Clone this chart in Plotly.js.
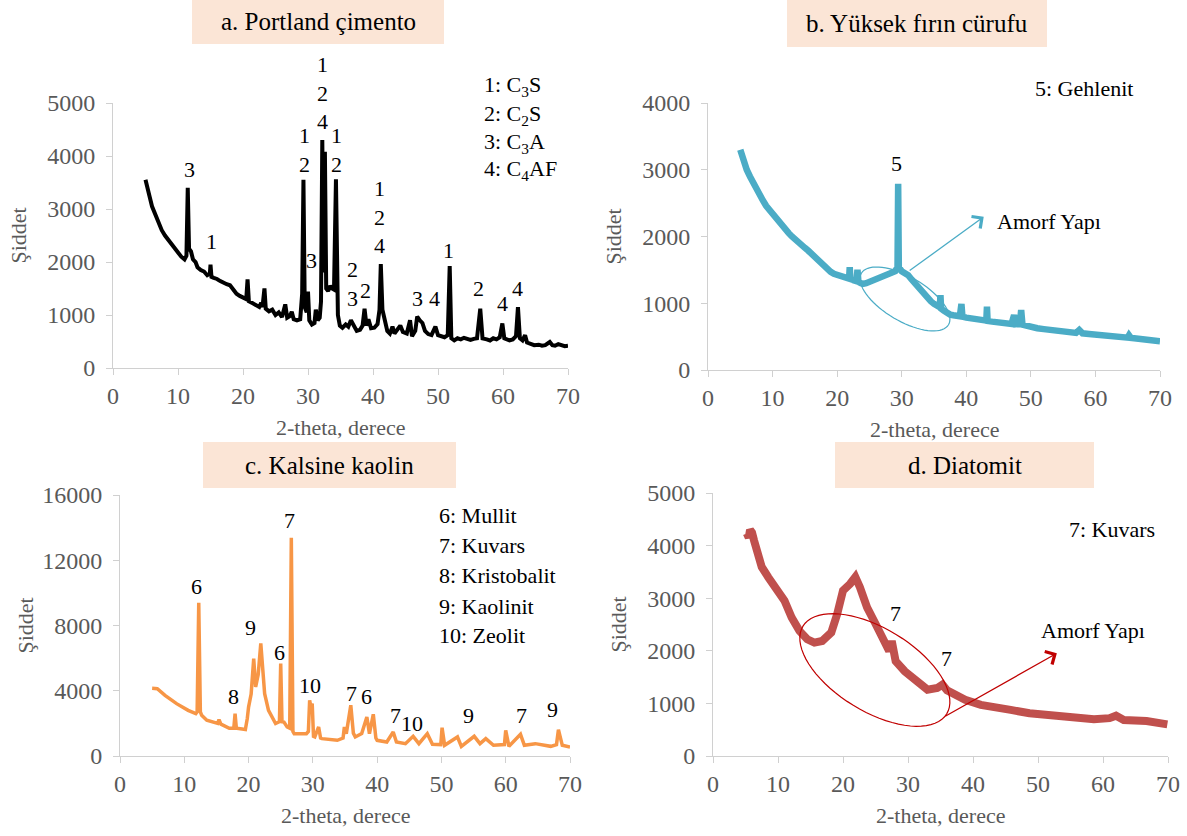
<!DOCTYPE html>
<html><head><meta charset="utf-8">
<script src="https://cdn.plot.ly/plotly-3.0.1.min.js"></script>
<style>html,body{margin:0;padding:0;background:#fff}#chart{width:1187px;height:836px}</style>
</head><body><div id="chart"></div>
<script>
// ---------- Panel a: Portland çimento ----------
const aX = [5.0,5.3,5.6,6.0,6.5,7.0,7.5,8.0,8.5,9.0,9.5,10.0,10.5,11.0,11.3,11.5,11.7,12.0,12.3,12.7,13.0,13.5,14.0,14.5,14.9,15.0,15.15,15.5,16.0,16.5,17.0,17.5,18.0,18.5,19.0,19.5,20.0,20.5,20.7,20.9,21.5,22.0,22.5,22.8,23.0,23.3,23.5,24.0,24.5,25.0,25.5,26.0,26.5,26.8,27.2,27.5,27.8,28.3,28.8,29.1,29.3,29.5,29.8,30.0,30.2,30.6,31.0,31.2,31.5,31.8,32.0,32.2,32.4,32.6,32.8,33.1,33.4,33.7,34.0,34.3,34.6,34.9,35.3,35.8,36.2,36.6,37.0,37.5,38.0,38.4,38.7,39.0,39.3,39.7,40.2,40.7,41.0,41.2,41.45,41.8,42.2,42.6,43.0,43.3,43.8,44.2,44.6,45.2,45.7,46.0,46.5,46.8,47.2,47.6,48.0,48.5,49.0,49.6,50.0,50.5,51.0,51.5,51.8,52.05,52.5,53.0,53.5,54.0,54.5,55.0,55.5,56.0,56.5,56.85,57.5,58.0,58.5,59.0,59.5,59.9,60.2,60.6,61.0,61.5,62.0,62.3,62.6,63.0,63.4,63.7,64.2,64.8,65.5,66.0,66.5,67.2,67.6,68.0,68.5,69.0,69.5,70.0];
const aY = [3550,3350,3250,3050,2900,2750,2600,2500,2420,2330,2250,2180,2100,2050,2120,3400,2250,2200,2050,2000,1900,1850,1820,1750,1780,1950,1720,1700,1680,1640,1600,1580,1560,1480,1400,1360,1320,1300,1670,1260,1220,1180,1150,1230,1150,1500,1120,1070,1100,1000,1050,960,1200,950,980,1060,920,900,920,1400,3550,1150,1050,1440,900,820,850,1100,900,950,1250,4300,1800,4080,1500,1450,1550,1500,1480,3560,1000,800,760,820,780,900,800,700,720,800,1120,800,920,750,760,830,1100,1960,1100,900,700,650,780,650,750,800,680,650,900,600,700,970,900,850,700,640,620,780,620,600,580,620,1925,560,520,560,540,570,540,530,550,560,1120,560,540,520,560,540,580,840,560,530,520,540,600,1150,560,520,620,480,450,430,440,420,430,490,430,420,450,430,410,420];
const aLabT = ['3','1','1<br>2','1<br>2<br>4','1<br>2','3','2<br>3','2','1<br>2<br>4','3','4','1','2','4','4'];
const aLabX = [11.75,15.2,29.4,32.2,34.4,30.6,36.8,38.8,41.0,46.8,49.4,51.6,56.3,60.0,62.3];
const aLabY = [3739,2383,4108,5189,4108,2036,1586,1469,2856,1312,1312,2226,1500,1217,1500];
const aLegT = ['1: C<sub>3</sub>S','2: C<sub>2</sub>S','3: C<sub>3</sub>A','4: C<sub>4</sub>AF'];
const aLegY = [5314,4779,4245,3740];

// ---------- Panel b: Yüksek fırın cürufu ----------
const bX = [5.0,5.2,5.5,6.0,6.5,7.0,7.5,8.0,8.5,9.0,9.5,10.0,10.5,11.0,11.5,12.0,12.5,13.0,13.5,14.0,14.5,15.0,15.5,16.0,16.5,17.0,17.5,18.0,18.5,19.0,19.5,20.0,20.5,21.0,21.5,21.85,21.95,22.05,22.5,23.0,23.15,23.3,23.7,24.0,24.5,25.0,25.5,26.0,26.5,27.0,27.5,28.0,28.5,29.0,29.35,29.45,29.55,30.0,30.5,31.0,31.5,32.0,32.5,33.0,33.5,34.0,34.5,35.0,35.5,35.9,36.0,36.1,36.5,37.0,37.5,38.0,38.5,39.0,39.25,39.4,40.0,40.5,41.0,41.5,42.0,42.5,43.1,43.2,43.3,44.0,44.5,45.0,45.5,46.0,46.5,47.0,47.4,47.7,48.3,48.5,48.7,49.0,49.5,50.0,51.0,52.0,53.0,54.0,55.0,56.0,57.0,57.5,58.0,59.0,60.0,61.0,62.0,63.0,64.0,65.0,65.2,65.5,66.0,67.0,68.0,69.0,70.0];
const bY = [3300,3220,3120,3000,2900,2800,2720,2620,2540,2460,2400,2340,2270,2200,2150,2100,2050,2000,1950,1910,1870,1830,1790,1740,1690,1640,1590,1540,1500,1470,1440,1420,1400,1380,1375,1370,1540,1365,1345,1330,1500,1320,1300,1290,1300,1320,1335,1350,1370,1390,1405,1420,1445,1480,1540,2790,1540,1480,1450,1420,1360,1300,1250,1190,1130,1080,1030,990,960,940,1120,920,890,850,830,820,815,805,990,800,785,775,765,760,750,745,740,950,735,725,720,710,705,700,695,690,820,685,690,900,680,670,655,645,625,612,600,590,577,565,555,600,550,540,530,522,512,503,493,485,520,480,475,465,452,440,430];
const bLabT = ['5'];
const bLabX = [29.2];
const bLabY = [3093];

// ---------- Panel c: Kalsine kaolin ----------
const cX = [5.0,5.8,7.0,8.8,10.6,11.8,12.0,12.25,12.5,12.7,13.5,14.5,15.2,15.4,15.7,17.0,17.7,17.9,18.1,19.0,19.5,19.8,20.0,20.4,20.8,21.1,21.5,21.9,22.2,22.5,23.1,24.2,24.8,25.0,25.2,25.5,26.0,26.4,26.65,26.9,27.1,29.0,29.3,29.5,29.7,29.9,30.1,30.3,30.9,31.2,31.4,33.8,34.7,34.9,35.2,35.9,36.3,36.6,37.6,38.4,38.8,39.4,39.8,40.0,41.5,42.5,43.0,44.4,45.6,46.5,47.8,48.6,49.9,50.1,50.5,52.5,53.1,55.1,56.0,56.9,58.1,59.8,60.0,60.5,62.3,62.9,64.6,67.0,67.9,68.2,68.8,70.0];
const cY = [4150,4130,3720,3210,2800,2600,2700,9400,2700,2500,2190,2050,2000,2230,1950,1700,1700,2600,1700,1650,1620,2300,3000,3800,5970,4230,5000,6900,5000,3820,2800,1990,2100,5670,2100,2080,1780,1700,13380,1500,1370,1370,1500,3420,3000,3210,1200,1166,1780,1100,1064,962,1100,1780,1371,3110,1400,1166,1371,2394,1371,2557,1100,962,859,1473,859,757,1207,757,1371,716,700,1739,655,1166,593,1207,757,1064,655,700,1576,593,1330,655,757,593,700,1616,655,552];
const cLabT = ['6','8','9','6','7','10','7','6','7','10','9','7','9'];
const cLabX = [11.9,17.6,20.3,24.8,26.3,29.6,36.0,38.4,42.8,45.4,54.2,62.5,67.2];
const cLabY = [10421,3636,7887,6334,14426,4352,3842,3636,2513,2002,2513,2513,2820];
const cLegT = ['6: Mullit','7: Kuvars','8: Kristobalit','9: Kaolinit','10: Zeolit'];
const cLegY = [14773,12934,11095,9195,7417];

// ---------- Panel d: Diatomit ----------
const dX = [5.2,5.5,5.7,6.0,6.3,7.0,7.5,8.5,9.2,10.0,11.0,12.1,13.3,14.5,15.6,16.8,17.5,18.2,19.1,20.0,21.1,21.9,22.6,23.7,24.9,26.1,27.1,27.5,27.7,28.1,29.5,31.3,33.0,34.5,35.3,36.0,37.1,38.8,41.2,43.5,45.8,48.7,51.6,55.1,58.6,61.0,62.0,63.2,66.7,69.9];
const dY = [4233,4150,4300,4250,4105,3800,3593,3400,3274,3130,2954,2634,2379,2219,2155,2187,2250,2347,2698,3146,3274,3402,3210,2826,2538,2251,1995,2187,1950,1803,1611,1419,1260,1292,1356,1250,1164,1068,972,940,876,812,780,729,697,720,767,684,665,601];
const dLabT = ['7','7'];
const dLabX = [28.1,35.9];
const dLabY = [2705,1850];

// ---------- layout geometry ----------
const W = 1187, H = 836;
const FONT = 'Liberation Serif, Times New Roman, serif';
const panels = [
  {xa:'x',  ya:'y',  box:[113,568,103,368], yr:[0,5000],  dt:1000, title:'a. Portland çimento',   tb:[192,444,0,44]},
  {xa:'x2', ya:'y2', box:[708,1160,103,370], yr:[0,4000], dt:1000, title:'b. Yüksek fırın cürufu', tb:[787,1047,0,47]},
  {xa:'x3', ya:'y3', box:[120,570,495,756], yr:[0,16000], dt:4000, title:'c. Kalsine kaolin',     tb:[203,456,442,488]},
  {xa:'x4', ya:'y4', box:[713,1168,493,756], yr:[0,5000], dt:1000, title:'d. Diatomit',           tb:[835,1094,442,488]}
];
function px(pi, x) { const b = panels[pi].box; return b[0] + x/70*(b[1]-b[0]); }
function py(pi, v) { const p = panels[pi]; return p.box[3] - (v-p.yr[0])/(p.yr[1]-p.yr[0])*(p.box[3]-p.box[2]); }

const layout = {
  width: W, height: H, margin:{l:0,r:0,t:0,b:0},
  paper_bgcolor:'#fff', plot_bgcolor:'#fff', showlegend:false,
  font:{family:FONT, size:22, color:'#000'},
  shapes:[], annotations:[]
};

panels.forEach((p, i) => {
  const n = i === 0 ? '' : String(i+1);
  const [x0,x1,y0,y1] = p.box;
  layout['xaxis'+n] = {
    domain:[x0/W, x1/W], range:[0,70], dtick:10, tick0:0, anchor:p.ya,
    showline:true, linecolor:'#D0D0D0', linewidth:1, ticks:'outside', ticklen:6, tickcolor:'#D0D0D0',
    showgrid:false, zeroline:false, fixedrange:true,
    tickfont:{family:FONT, size:24, color:'#595959'}
  };
  layout['yaxis'+n] = {
    domain:[1-y1/H, 1-y0/H], range:p.yr, dtick:p.dt, tick0:0, anchor:p.xa, tickformat:'d',
    showline:true, linecolor:'#D0D0D0', linewidth:1, ticks:'outside', ticklen:6, tickcolor:'#D0D0D0',
    ticklabelstandoff:6,
    showgrid:false, zeroline:false, fixedrange:true,
    tickfont:{family:FONT, size:24, color:'#595959'}
  };
  const [tx0,tx1,ty0,ty1] = p.tb;
  layout.shapes.push({type:'rect', xref:'paper', yref:'paper', x0:tx0/W, x1:tx1/W, y0:1-ty1/H, y1:1-ty0/H,
    fillcolor:'#FBE5D6', line:{width:0}, layer:'below'});
  layout.annotations.push({xref:'paper', yref:'paper', x:(tx0+tx1)/2/W, y:1-(ty0+ty1)/2/H,
    xanchor:'center', yanchor:'middle', showarrow:false, text:p.title, font:{family:FONT,size:25,color:'#000'}});
  layout.annotations.push({xref:'paper', yref:'paper', x:(x0+x1)/2/W, y:1-(y1+59)/H,
    xanchor:'center', yanchor:'middle', showarrow:false, text:'2-theta, derece', font:{family:FONT,size:22,color:'#595959'}});
  layout.annotations.push({xref:'paper', yref:'paper', x:(x0-95)/W, y:1-(y0+y1)/2/H, textangle:-90,
    xanchor:'center', yanchor:'middle', showarrow:false, text:'Şiddet', font:{family:FONT,size:22,color:'#595959'}});
});

function addLabels(pi, T, X, Y, anchor) {
  T.forEach((t, k) => layout.annotations.push({xref:'paper', yref:'paper',
    x:px(pi, X[k])/W, y:1-py(pi, Y[k])/H, text:t, showarrow:false,
    xanchor:anchor||'center', yanchor:'middle', font:{family:FONT,size:22,color:'#000'}}));
}
addLabels(0, aLabT, aLabX, aLabY);
addLabels(0, aLegT, aLegT.map(()=>56.7), aLegY, 'left');
addLabels(1, bLabT, bLabX, bLabY);
addLabels(1, ['5: Gehlenit'], [58.2], [4215]);
addLabels(1, ['Amorf Yapı'], [44.5], [2220], 'left');
addLabels(2, cLabT, cLabX, cLabY);
addLabels(2, cLegT, cLegT.map(()=>49.3), cLegY, 'left');
addLabels(3, dLabT, dLabX, dLabY);
addLabels(3, ['7: Kuvars'], [61.4], [4297]);
addLabels(3, ['Amorf Yapı'], [58.4], [2379]);

function arrow(xr, yr, tail, head, color) {
  layout.annotations.push({xref:xr, yref:yr, axref:xr, ayref:yr, x:head[0], y:head[1], ax:tail[0], ay:tail[1],
    text:'', showarrow:true, arrowhead:4, arrowsize:2.2, arrowwidth:1.3, arrowcolor:color});
}
arrow('x2','y2',[31.0,1473],[42.7,2295],'#4BACC6');
arrow('x4','y4',[35.5,740],[52.9,1954],'#C00000');

function ellipse(pi, xr, yr, cx, cy, a, b, thDeg, color) {
  const p = panels[pi];
  const pxX = (p.box[1]-p.box[0])/70, pxY = (p.box[3]-p.box[2])/(p.yr[1]-p.yr[0]);
  const th = thDeg*Math.PI/180;
  let d = '';
  for (let k=0; k<=72; k++) {
    const t = k/72*2*Math.PI;
    const dx = a*Math.cos(t)*Math.cos(th) - b*Math.sin(t)*Math.sin(th);
    const dy = a*Math.cos(t)*Math.sin(th) + b*Math.sin(t)*Math.cos(th);
    d += (k===0?'M':'L') + (cx + dx/pxX).toFixed(3) + ',' + (cy - dy/pxY).toFixed(2);
  }
  layout.shapes.push({type:'path', xref:xr, yref:yr, path:d+'Z', line:{color:color, width:1.2}});
}
ellipse(1,'x2','y2',30.5,1064,50.6,22,30.6,'#4BACC6');
ellipse(3,'x4','y4',24.9,1635,84.2,41.4,31.4,'#C00000');

const traces = [
  {x:aX, y:aY, xaxis:'x',  yaxis:'y',  mode:'lines', line:{color:'#000000', width:4}},
  {x:bX, y:bY, xaxis:'x2', yaxis:'y2', mode:'lines', line:{color:'#4BACC6', width:6.5}},
  {x:cX, y:cY, xaxis:'x3', yaxis:'y3', mode:'lines', line:{color:'#F79646', width:3.5}},
  {x:dX, y:dY, xaxis:'x4', yaxis:'y4', mode:'lines', line:{color:'#C0504D', width:8}}
];

Plotly.newPlot('chart', traces, layout, {staticPlot:true, displayModeBar:false});
</script></body></html>
